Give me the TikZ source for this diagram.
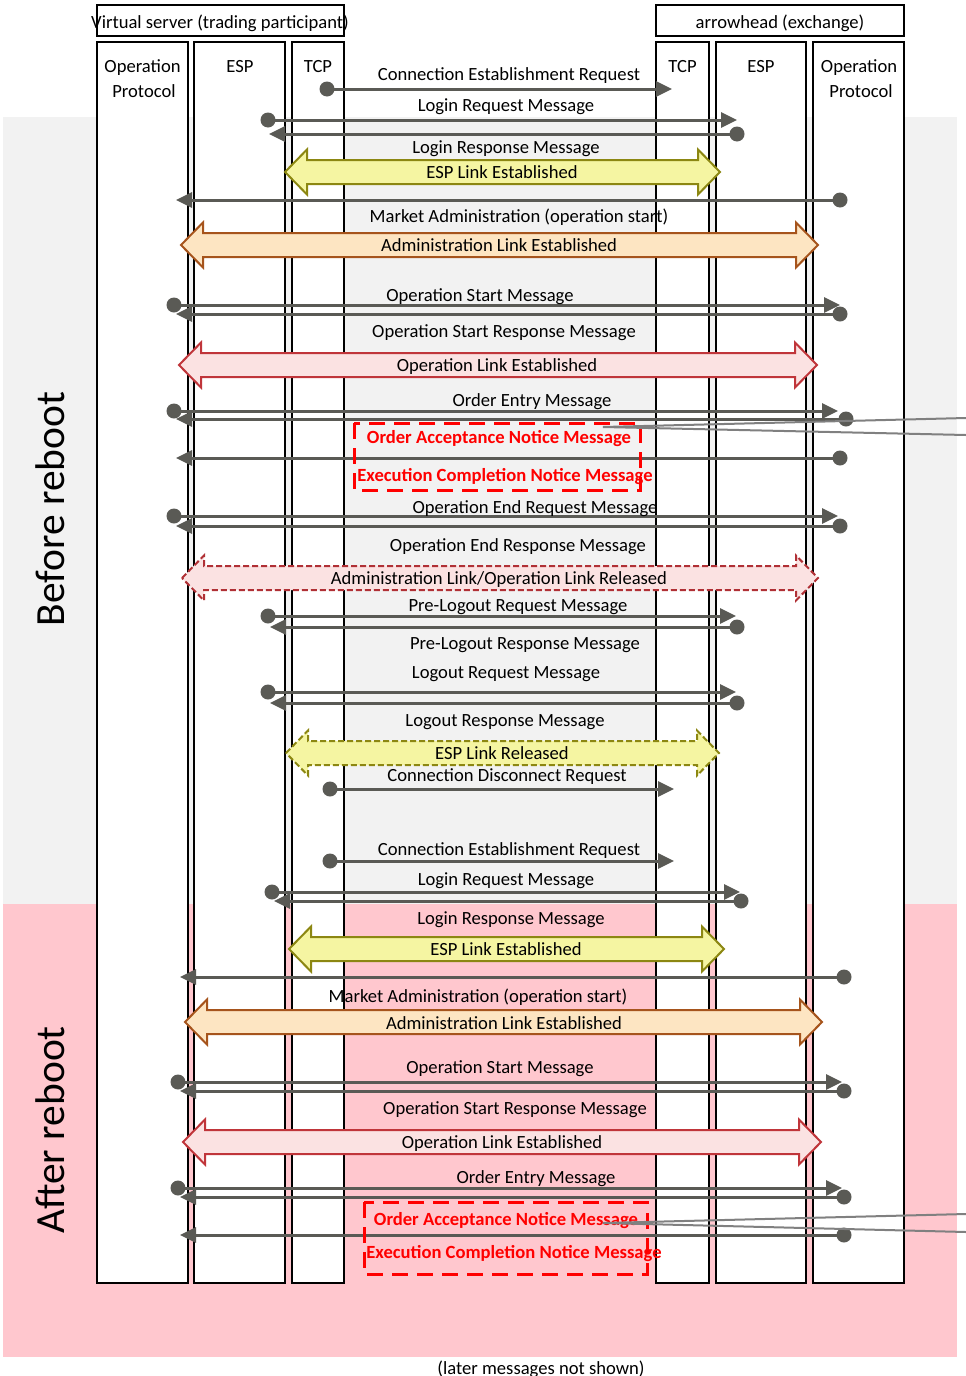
\documentclass[tikz,border=0pt]{standalone}
\usepackage{fontspec}
\setmainfont{Carlito}
\usetikzlibrary{arrows.meta}
\definecolor{msgc}{HTML}{5A5A55}
\definecolor{greybg}{HTML}{F2F2F2}
\definecolor{pinkbg}{HTML}{FFC7CE}
\definecolor{yelfill}{HTML}{F5F5A2}
\definecolor{yeldraw}{HTML}{8C8712}
\definecolor{orgfill}{HTML}{FDE5C2}
\definecolor{orgdraw}{HTML}{A6541C}
\definecolor{oplfill}{HTML}{FBE2E2}
\definecolor{opldraw}{HTML}{C0353A}
\definecolor{reldraw}{HTML}{B03035}
\definecolor{calloutc}{HTML}{808080}
\newcommand\barrow[4]{%
  \draw[#1] (#2,#4) -- ({#2+22},{#4-22.5}) -- ({#2+22},{#4-12}) -- ({#3-22},{#4-12})
   -- ({#3-22},{#4-22.5}) -- (#3,#4) -- ({#3-22},{#4+22.5}) -- ({#3-22},{#4+12})
   -- ({#2+22},{#4+12}) -- ({#2+22},{#4+22.5}) -- cycle;}
\newcommand\msgarrow[3]{%
  \draw[msgline] (#1,#3) -- (#2,#3);
  \fill[msgc] (#1,#3) circle (7.5);}
\begin{document}
\begin{tikzpicture}[x=1pt,y=-1pt,
  font=\fontsize{18.6}{22}\selectfont,
  col/.style={draw=black, line width=1.8pt, fill=white},
  lbl/.style={anchor=base, inner sep=0pt},
  redlbl/.style={anchor=base, inner sep=0pt, text=red, font=\fontsize{18.6}{22}\selectfont\bfseries},
  msgline/.style={draw=msgc, line width=3pt, -{Triangle[length=16pt,width=15pt]}},
  yel/.style={fill=yelfill, draw=yeldraw, line width=2pt},
  yelrel/.style={fill=yelfill, draw=yeldraw, line width=2pt, dash pattern=on 6pt off 3pt},
  org/.style={fill=orgfill, draw=orgdraw, line width=2pt},
  opl/.style={fill=oplfill, draw=opldraw, line width=2pt},
  rel/.style={fill=oplfill, draw=reldraw, line width=2pt, dash pattern=on 6pt off 3pt},
  redbox/.style={draw=red, line width=3pt, dash pattern=on 16pt off 9pt},
  callout/.style={draw=calloutc, line width=2pt}]
\useasboundingbox (0,0) rectangle (966,1376);
% backgrounds
\fill[greybg] (3,117) rectangle (957,904);
\fill[pinkbg] (3,904) rectangle (957,1357);
\node[rotate=90, font=\fontsize{41.5}{48}\selectfont] (before) at (50,509) {Before reboot};
\node[rotate=90, font=\fontsize{41.5}{48}\selectfont] (after) at (50,1130) {After reboot};
\node[lbl] (later) at (541,1374) {(later messages not shown)};
% header boxes
\draw[col] (97,5) rectangle (344,36);
\draw[col] (656,5) rectangle (904,36);
\node[lbl] (vs) at (220,28) {Virtual server (trading participant)};
\node[lbl] (ex) at (780,28) {arrowhead (exchange)};
% columns
\draw[col] (97,42) rectangle (188,1283);
\draw[col] (194,42) rectangle (285,1283);
\draw[col] (292,42) rectangle (344,1283);
\draw[col] (656,42) rectangle (709,1283);
\draw[col] (716,42) rectangle (806,1283);
\draw[col] (813,42) rectangle (904,1283);
\node[lbl] (opl1) at (142.5,72) {Operation};
\node[lbl] (opl2) at (144,97) {Protocol};
\node[lbl] (espl) at (240,72) {ESP};
\node[lbl] (tcpl) at (318,72) {TCP};
\node[lbl] (tcpr) at (682.5,72) {TCP};
\node[lbl] (espr) at (761,72) {ESP};
\node[lbl] (opr1) at (859,72) {Operation};
\node[lbl] (opr2) at (861,97) {Protocol};
% block arrows
\barrow{yel}{285}{720}{172}
\barrow{org}{181}{818}{245}
\barrow{opl}{179}{817}{365}
\barrow{rel}{182}{818}{578}
\barrow{yelrel}{286}{719}{753}
\barrow{yel}{289}{724}{949}
\barrow{org}{185}{822}{1022}
\barrow{opl}{183}{821}{1142}
% message arrows
\msgarrow{327}{672}{89}
\msgarrow{268}{737}{120}
\msgarrow{737}{269}{134}
\msgarrow{840}{176}{200}
\msgarrow{174}{840}{305}
\msgarrow{840}{176}{314}
\msgarrow{174}{838}{411}
\msgarrow{846}{176}{419}
\msgarrow{840}{176}{458}
\msgarrow{174}{838}{516}
\msgarrow{840}{176}{526}
\msgarrow{268}{736}{616}
\msgarrow{737}{270}{627}
\msgarrow{268}{736}{692}
\msgarrow{737}{270}{703}
\msgarrow{330}{674}{789}
\msgarrow{330}{674}{861}
\msgarrow{272}{740}{892}
\msgarrow{741}{274}{901}
\msgarrow{844}{180}{977}
\msgarrow{178}{842}{1082}
\msgarrow{844}{180}{1091}
\msgarrow{178}{842}{1188}
\msgarrow{844}{180}{1197}
\msgarrow{844}{180}{1235}
% red boxes
\draw[redbox] (354,423) rectangle (640,490);
\draw[redbox] (364,1202) rectangle (647,1274);
% labels
\node[lbl] (m1) at (509,80) {Connection Establishment Request};
\node[lbl] (m2) at (506,111) {Login Request Message};
\node[lbl] (m3) at (506,153) {Login Response Message};
\node[lbl] (m4) at (502,178) {ESP Link Established};
\node[lbl] (m5) at (519,222) {Market Administration (operation start)};
\node[lbl] (m6) at (499,251) {Administration Link Established};
\node[lbl] (m7) at (480,301) {Operation Start Message};
\node[lbl] (m8) at (504,337) {Operation Start Response Message};
\node[lbl] (m9) at (497,371) {Operation Link Established};
\node[lbl] (m10) at (532,406) {Order Entry Message};
\node[redlbl] (m11) at (499,443) {Order Acceptance Notice Message};
\node[redlbl] (m12) at (505,481) {Execution Completion Notice Message};
\node[lbl] (m13) at (535,513) {Operation End Request Message};
\node[lbl] (m14) at (518,551) {Operation End Response Message};
\node[lbl] (m15) at (499,584) {Administration Link/Operation Link Released};
\node[lbl] (m16) at (518,611) {Pre-Logout Request Message};
\node[lbl] (m17) at (525,649) {Pre-Logout Response Message};
\node[lbl] (m18) at (506,678) {Logout Request Message};
\node[lbl] (m19) at (505,726) {Logout Response Message};
\node[lbl] (m20) at (502,759) {ESP Link Released};
\node[lbl] (m21) at (507,781) {Connection Disconnect Request};
\node[lbl] (m22) at (509,855) {Connection Establishment Request};
\node[lbl] (m23) at (506,885) {Login Request Message};
\node[lbl] (m24) at (511,924) {Login Response Message};
\node[lbl] (m25) at (506,955) {ESP Link Established};
\node[lbl] (m26) at (478,1002) {Market Administration (operation start)};
\node[lbl] (m27) at (504,1029) {Administration Link Established};
\node[lbl] (m28) at (500,1073) {Operation Start Message};
\node[lbl] (m29) at (515,1114) {Operation Start Response Message};
\node[lbl] (m30) at (502,1148) {Operation Link Established};
\node[lbl] (m31) at (536,1183) {Order Entry Message};
\node[redlbl] (m32) at (506,1225) {Order Acceptance Notice Message};
\node[redlbl] (m33) at (514,1258) {Execution Completion Notice Message};
% callouts
\coordinate (c1) at (603,427);
\coordinate (c1a) at (966,418);
\coordinate (c1b) at (966,435);
\draw[callout] (c1a) -- (c1) -- (c1b);
\coordinate (c2) at (603,1223);
\coordinate (c2a) at (966,1214);
\coordinate (c2b) at (966,1232);
\draw[callout] (c2a) -- (c2) -- (c2b);
\end{tikzpicture}
\end{document}
